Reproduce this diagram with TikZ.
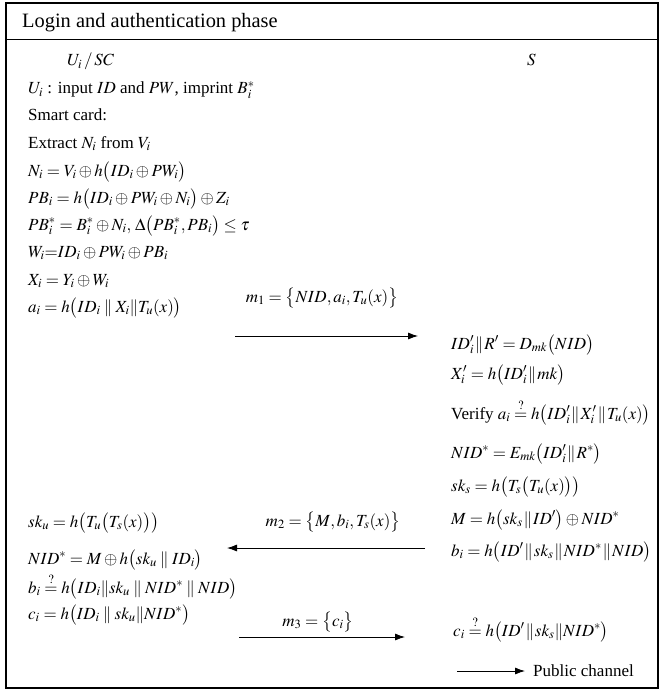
\documentclass[tikz,border=0pt]{standalone}
\usepackage{amsmath}
\usepackage{mathptmx}
\usepackage{fontspec}
\setmainfont{Liberation Serif}
\usetikzlibrary{arrows.meta}
\newcommand\dbar{\mathbin{\mskip1mu\|\mskip1mu}}
\newcommand\rbar{\mskip1mu\|\mskip1mu}
\newcommand\qeq{\mathrel{\overset{?}{=}}}
\begin{document}
\begin{tikzpicture}[x=1pt,y=-1pt,
  txt/.style={inner sep=0pt, anchor=base west, font=\fontsize{17}{20}\selectfont},
  lbl/.style={inner sep=0pt, anchor=base, font=\fontsize{17}{20}\selectfont},
  msg/.style={line width=0.8pt, -{Latex[length=10pt,width=7pt]}},
  frame/.style={line width=1.4pt}]
\useasboundingbox (0,0) rectangle (662,690);
\draw[frame] (6,3) rectangle (658,688);
\draw[line width=0.8pt] (6,39) -- (658,39);
\node[txt, font=\fontsize{20.4}{24}\selectfont] (title) at (22,28) {Login and authentication phase};
\node[txt] (hu) at (67,66) {$U_i\,/\,SC$};
\node[txt] (hs) at (527,66) {$S$};
% left column
\node[txt] (l1) at (28,94) {$U_i$ : input $ID$ and $PW$, imprint $B_i^*$};
\node[txt] (l2) at (28,121) {Smart card:};
\node[txt] (l3) at (28,148) {Extract $N_i$ from $V_i$};
\node[txt] (l4) at (28,176) {$N_i = V_i \oplus h\bigl(ID_i \oplus PW_i\bigr)$};
\node[txt] (l5) at (28,203) {$PB_i = h\bigl(ID_i \oplus PW_i \oplus N_i\bigr) \oplus Z_i$};
\node[txt] (l6) at (28,230) {$PB_i^* = B_i^* \oplus N_i,\, \Delta\bigl(PB_i^*, PB_i\bigr) \le \tau$};
\node[txt] (l7) at (28,257) {$W_i{=}ID_i \oplus PW_i \oplus PB_i$};
\node[txt] (l8) at (28,285) {$X_i = Y_i \oplus W_i$};
\node[txt] (l9) at (28,312) {$a_i = h\bigl(ID_i \dbar X_i \| T_u(x)\bigr)$};
% m1
\coordinate (m1s) at (235,336);
\coordinate (m1e) at (418,336);
\draw[msg] (m1s) -- (m1e);
\node[lbl] (m1) at (322,302) {$m_1 = \bigl\{NID, a_i, T_u(x)\bigr\}$};
% right column
\node[txt] (r1) at (451,349) {$ID_i' \rbar R' = D_{mk}\bigl(NID\bigr)$};
\node[txt] (r2) at (451,379) {$X_i' = h\bigl(ID_i' \rbar mk\bigr)$};
\node[txt] (r3) at (451,419) {Verify $a_i \qeq h\bigl(ID_i' \rbar X_i' \rbar T_u(x)\bigr)$};
\node[txt] (r4) at (451,458) {$NID^* = E_{mk}\bigl(ID_i' \rbar R^*\bigr)$};
\node[txt] (r5) at (451,491) {$sk_s = h\bigl(T_s\bigl(T_u(x)\bigr)\bigr)$};
\node[txt] (r6) at (451,524) {$M = h\bigl(sk_s \rbar ID'\bigr) \oplus NID^*$};
\node[txt] (r7) at (451,556) {$b_i = h\bigl(ID' \rbar sk_s \rbar NID^* \rbar NID\bigr)$};
% m2
\coordinate (m2s) at (425,548);
\coordinate (m2e) at (227,548);
\draw[msg] (m2s) -- (m2e);
\node[lbl] (m2) at (333,526) {$m_2 = \bigl\{M, b_i, T_s(x)\bigr\}$};
% left lower
\node[txt] (l10) at (28,527) {$sk_u = h\bigl(T_u\bigl(T_s(x)\bigr)\bigr)$};
\node[txt] (l11) at (28,564) {$NID^* = M \oplus h\bigl(sk_u \dbar ID_i\bigr)$};
\node[txt] (l12) at (28,593) {$b_i \qeq h\bigl(ID_i \| sk_u \dbar NID^* \dbar NID\bigr)$};
\node[txt] (l13) at (28,619) {$c_i = h\bigl(ID_i \dbar sk_u \| NID^*\bigr)$};
% m3
\coordinate (m3s) at (239,637);
\coordinate (m3e) at (405,637);
\draw[msg] (m3s) -- (m3e);
\node[lbl] (m3) at (318,626) {$m_3 = \bigl\{c_i\bigr\}$};
\node[txt] (r8) at (453,636) {$c_i \qeq h\bigl(ID' \rbar sk_s \| NID^*\bigr)$};
% legend
\coordinate (ps) at (457,671);
\coordinate (pe) at (525,671);
\draw[msg] (ps) -- (pe);
\node[txt] (pc) at (533,676) {Public channel};
\end{tikzpicture}
\end{document}
